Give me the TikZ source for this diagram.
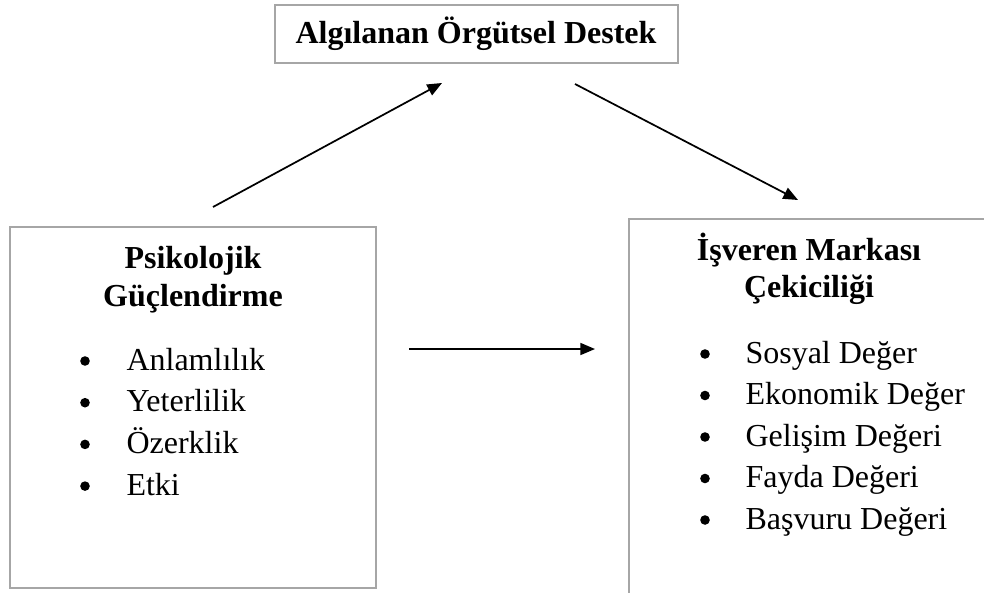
\documentclass[tikz,border=0pt]{standalone}
\usepackage{fontspec}
\setmainfont{Liberation Serif}
\usetikzlibrary{arrows.meta,fit}
\tikzset{
    box/.style={draw=gray!70, line width=0.75pt, inner sep=0pt},
    yazi/.style={font=\fontsize{12}{14}\selectfont, inner sep=0pt},
    baslik/.style={yazi, font=\fontsize{12}{14}\selectfont\bfseries, anchor=base},
    madde/.style={yazi, anchor=base west},
    imlec/.style={circle, fill, inner sep=0pt, minimum size=3.6pt},
    ok/.style={-{Triangle[length=5.5pt,width=4.5pt]}, line width=0.65pt},
}
\begin{document}
\begin{tikzpicture}[x=0.375pt,y=-0.375pt]
    \useasboundingbox (0,0) rectangle (984,592);
    \clip (0,0) rectangle (984,592);
    % Kutular
    \node[box, fit={(275,5) (678,63)}] (destek) {};
    \node[box, fit={(10,227) (376,588)}] (psiko) {};
    \node[box, fit={(629,219) (989,640)}] (marka) {};
    \node[baslik] (destek1) at (476,44) {Algılanan Örgütsel Destek};
    \node[baslik] (psiko1) at (193,268) {Psikolojik};
    \node[baslik] (psiko2) at (193,306) {Güçlendirme};
    \node[baslik] (marka1) at (809,260) {İşveren Markası};
    \node[baslik] (marka2) at (809,297) {Çekiciliği};
    \foreach \t [count=\i] in {Anlamlılık, Yeterlilik, Özerklik, Etki} {
        \node[imlec] (pb\i) at (85,{361+41.7*(\i-1)}) {};
        \node[madde] (pm\i) at (126,{370+41.7*(\i-1)}) {\t};
    }
    \foreach \t [count=\i] in {Sosyal Değer, Ekonomik Değer, Gelişim Değeri, Fayda Değeri, Başvuru Değeri} {
        \node[imlec] (mb\i) at (705,{354+41.5*(\i-1)}) {};
        \node[madde] (mm\i) at (745,{363+41.5*(\i-1)}) {\t};
    }
    % Oklar
    \coordinate (o1a) at (213,207);
    \coordinate (o1b) at (442,83);
    \coordinate (o2a) at (575,84);
    \coordinate (o2b) at (798,200);
    \coordinate (o3a) at (409,349);
    \coordinate (o3b) at (595,349);
    \draw[ok] (o1a) -- (o1b);
    \draw[ok] (o2a) -- (o2b);
    \draw[ok] (o3a) -- (o3b);
\end{tikzpicture}
\end{document}
